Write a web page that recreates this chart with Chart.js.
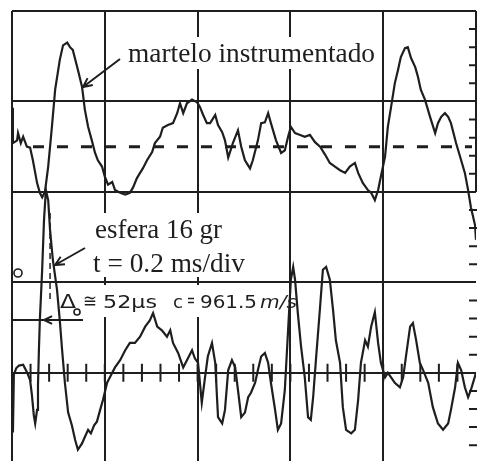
<!DOCTYPE html>
<html><head><meta charset="utf-8">
<script src="https://cdn.jsdelivr.net/npm/chart.js@4.4.0/dist/chart.umd.min.js"></script>
<style>html,body{margin:0;padding:0;background:#fff;}canvas{display:block;}</style>
</head><body>
<canvas id="c" width="478" height="461"></canvas>
<script>
// time in ms (0.2 ms/div), amplitude in divisions (0 = lower trace baseline)
const tTop = [0,0.002,0.011,0.013,0.019,0.024,0.032,0.039,0.045,0.054,
0.060,0.065,0.071,0.078,0.086,0.093,0.103,0.110,0.119,0.125,
0.131,0.142,0.151,0.157,0.164,0.172,0.179,0.185,0.194,0.200,
0.207,0.216,0.222,0.233,0.244,0.254,0.261,0.269,0.276,0.282,
0.291,0.302,0.308,0.319,0.325,0.336,0.347,0.356,0.362,0.369,
0.377,0.388,0.399,0.405,0.412,0.420,0.427,0.438,0.444,0.453,
0.459,0.466,0.476,0.487,0.494,0.502,0.513,0.519,0.530,0.537,
0.545,0.552,0.558,0.569,0.580,0.588,0.595,0.601,0.610,0.621,
0.631,0.642,0.653,0.664,0.675,0.685,0.696,0.707,0.718,0.728,
0.739,0.746,0.756,0.767,0.774,0.782,0.789,0.795,0.804,0.810,
0.817,0.825,0.832,0.838,0.847,0.853,0.860,0.869,0.875,0.881,
0.890,0.901,0.912,0.918,0.925,0.933,0.940,0.946,0.957,0.968,
0.976,0.983,0.989,0.998,1.0];
const vTop = [2.93,2.54,2.57,2.65,2.54,2.61,2.50,2.49,2.35,2.10,
1.99,1.94,2.00,2.28,2.72,3.13,3.46,3.62,3.65,3.60,
3.57,3.35,3.16,2.91,2.72,2.57,2.43,2.35,2.28,2.17,
2.08,2.11,2.02,1.99,1.97,1.99,2.05,2.15,2.21,2.26,
2.35,2.44,2.54,2.61,2.71,2.74,2.76,2.87,2.98,2.87,
2.98,3.02,2.99,2.94,2.85,2.76,2.76,2.85,2.74,2.66,
2.57,2.38,2.54,2.68,2.50,2.35,2.26,2.35,2.57,2.76,
2.77,2.87,2.76,2.57,2.43,2.46,2.61,2.72,2.65,2.63,
2.61,2.63,2.55,2.50,2.41,2.32,2.28,2.24,2.21,2.28,
2.32,2.21,2.10,2.02,1.99,1.91,2.02,2.17,2.39,2.72,
2.94,3.20,3.35,3.49,3.59,3.60,3.48,3.38,3.27,3.13,
3.02,2.83,2.65,2.76,2.83,2.87,2.83,2.76,2.54,2.35,
2.21,2.02,1.83,1.63,1.47];
const tBot = [0.002,0.004,0.009,0.015,0.024,0.032,0.039,0.043,0.047,0.050,
0.054,0.056,0.058,0.060,0.065,0.069,0.073,0.078,0.082,0.088,
0.097,0.103,0.108,0.114,0.121,0.129,0.136,0.142,0.151,0.157,
0.164,0.170,0.177,0.183,0.190,0.196,0.205,0.211,0.222,0.233,
0.244,0.254,0.265,0.276,0.287,0.297,0.304,0.313,0.323,0.334,
0.341,0.347,0.358,0.369,0.377,0.388,0.394,0.401,0.409,0.416,
0.422,0.431,0.438,0.444,0.453,0.459,0.466,0.474,0.481,0.487,
0.494,0.502,0.509,0.515,0.524,0.530,0.537,0.545,0.552,0.558,
0.567,0.573,0.580,0.588,0.595,0.601,0.606,0.610,0.616,0.623,
0.631,0.638,0.644,0.649,0.655,0.664,0.670,0.677,0.685,0.692,
0.698,0.707,0.713,0.720,0.731,0.739,0.746,0.752,0.761,0.767,
0.774,0.782,0.789,0.795,0.804,0.810,0.817,0.825,0.836,0.843,
0.849,0.858,0.864,0.871,0.879,0.886,0.897,0.907,0.918,0.929,
0.940,0.946,0.955,0.961,0.968,0.976,0.983,0.989,1.000];
const vBot = [-0.66,-0.02,0.05,0.08,0.09,0.01,-0.08,-0.25,-0.47,-0.56,
-0.41,-0.14,0.25,0.58,1.14,1.69,2.02,1.91,1.58,1.25,
0.92,0.58,0.25,-0.11,-0.44,-0.58,-0.74,-0.85,-0.78,-0.71,
-0.63,-0.67,-0.58,-0.54,-0.41,-0.30,-0.11,-0.05,0.06,0.14,
0.25,0.33,0.33,0.40,0.51,0.58,0.66,0.51,0.47,0.40,
0.47,0.33,0.22,0.06,0.14,0.25,0.16,0.11,-0.33,-0.05,
0.18,0.33,0.11,-0.49,-0.56,-0.41,0.03,0.14,0.06,-0.19,
-0.49,-0.44,-0.27,-0.22,-0.11,0.03,0.18,0.22,0.11,-0.11,
-0.41,-0.63,-0.56,-0.19,0.47,1.03,1.17,1.03,0.66,0.29,
-0.05,-0.49,-0.52,-0.27,0.14,0.73,1.14,1.17,1.03,0.69,
0.36,0.11,-0.38,-0.63,-0.67,-0.63,-0.30,0.11,0.36,0.29,
0.51,0.67,0.33,0.11,-0.05,0.00,-0.05,-0.11,-0.16,-0.05,
0.18,0.51,0.55,0.36,0.11,0.03,-0.11,-0.38,-0.56,-0.63,
-0.56,-0.41,-0.16,0.11,0.03,-0.16,-0.27,-0.19,0.00];
const xGridTicks = [0,0.2,0.4,0.6,0.8,1.0];
const yGridTicks = [0,1,2,3,4];
const topZero = 2.5;

const ink = '#1e1e1e';

function fit(ctx, txt, x, y, w) {
  const m = ctx.measureText(txt).width;
  ctx.save(); ctx.translate(x, y); ctx.scale(w / m, 1); ctx.fillText(txt, 0, 0); ctx.restore();
}
function arrow(ctx, x1, y1, x2, y2, len) {
  const a = Math.atan2(y2 - y1, x2 - x1);
  ctx.beginPath(); ctx.moveTo(x1, y1); ctx.lineTo(x2, y2);
  ctx.moveTo(x2 - len * Math.cos(a - 0.45), y2 - len * Math.sin(a - 0.45));
  ctx.lineTo(x2, y2);
  ctx.lineTo(x2 - len * Math.cos(a + 0.45), y2 - len * Math.sin(a + 0.45));
  ctx.stroke();
}

const annotate = {
  id: 'annotate',
  beforeDatasetsDraw(chart) {
    const {ctx, chartArea: a, scales: {x, y}} = chart;
    ctx.save();
    ctx.fillStyle = '#fff';
    ctx.fillRect(120, 37, 260, 32);
    ctx.fillRect(88, 213, 164, 64);
    ctx.fillRect(55, 285, 232, 32);
    ctx.strokeStyle = ink; ctx.fillStyle = ink;
    const xr = x.getPixelForValue(1);
    ctx.lineWidth = 2;
    ctx.beginPath(); ctx.moveTo(xr, a.top); ctx.lineTo(xr, y.getPixelForValue(2)); ctx.stroke();
    const y0 = y.getPixelForValue(0);
    ctx.beginPath();
    for (let i = 1; i < 25; i++) {
      const px = x.getPixelForValue(i * 0.04);
      ctx.moveTo(px, y0 - 9); ctx.lineTo(px, y0 + 9);
    }
    for (let i = -4; i < 20; i++) {
      if (i % 5 === 0) continue;
      const py = y.getPixelForValue(i * 0.2);
      ctx.moveTo(xr - 7, py); ctx.lineTo(xr + 1, py);
    }
    ctx.stroke();
    // zero reference of the upper trace
    const yz = y.getPixelForValue(topZero);
    ctx.lineWidth = 3; ctx.setLineDash([11, 13]);
    ctx.beginPath(); ctx.moveTo(33, yz); ctx.lineTo(xr - 4, yz); ctx.stroke();
    ctx.setLineDash([6, 4]); ctx.lineWidth = 1.5;
    const xd = x.getPixelForValue(0.082);
    ctx.beginPath(); ctx.moveTo(xd, 213); ctx.lineTo(xd, 303); ctx.stroke();
    ctx.setLineDash([]);
    // texts
    ctx.textBaseline = 'alphabetic';
    ctx.font = '27px "Liberation Serif"';
    fit(ctx, 'martelo instrumentado', 128, 62, 247);
    fit(ctx, 'esfera 16 gr', 95, 238, 127);
    fit(ctx, 't = 0.2 ms/div', 93, 272, 152);
    ctx.font = '20px "DejaVu Sans"';
    fit(ctx, 'Δ', 60, 308, 16);
    ctx.font = '18px "DejaVu Sans"';
    fit(ctx, '≅', 83, 307, 14);
    fit(ctx, '52μs', 103, 308, 54);
    fit(ctx, 'c', 173, 308, 10);
    fit(ctx, '=', 187, 306, 8);
    fit(ctx, '961.5', 200, 308, 57);
    ctx.font = 'italic 18px "DejaVu Sans"';
    fit(ctx, 'm/s', 260, 308, 37);
    ctx.lineWidth = 1.6;
    ctx.beginPath(); ctx.arc(77, 312, 3, 0, Math.PI * 2); ctx.stroke();
    ctx.beginPath(); ctx.arc(18, 273, 4, 0, Math.PI * 2); ctx.stroke();
    // arrows
    ctx.lineWidth = 2;
    arrow(ctx, 120, 59, 83, 87, 10);
    arrow(ctx, 85, 248, 55, 265, 10);
    ctx.beginPath(); ctx.moveTo(a.left, 320); ctx.lineTo(83, 320); ctx.stroke();
    arrow(ctx, 60, 320, 44, 320, 9);
    ctx.restore();
  }
};

new Chart(document.getElementById('c'), {
  type: 'line',
  data: { datasets: [
    { label: 'martelo instrumentado', data: tTop.map((t, i) => ({x: t, y: vTop[i]})),
      borderColor: ink, borderWidth: 2.2, pointRadius: 0, tension: 0, fill: false },
    { label: 'esfera 16 gr', data: tBot.map((t, i) => ({x: t, y: vBot[i]})),
      borderColor: ink, borderWidth: 2.2, pointRadius: 0, tension: 0, fill: false }
  ]},
  options: {
    responsive: false, animation: false, devicePixelRatio: 1,
    layout: { padding: { left: 12, top: 11, right: 2, bottom: 0 } },
    plugins: { legend: { display: false }, tooltip: { enabled: false } },
    scales: {
      x: { type: 'linear', min: 0, max: 1,
        afterBuildTicks: s => { s.ticks = xGridTicks.map(v => ({value: v})); },
        ticks: { display: false },
        grid: { color: c => (c.tick && c.tick.value === 1) ? 'rgba(0,0,0,0)' : ink, lineWidth: 2, drawTicks: false },
        border: { display: false } },
      y: { type: 'linear', min: -0.975, max: 4,
        afterBuildTicks: s => { s.ticks = yGridTicks.map(v => ({value: v})); },
        ticks: { display: false },
        grid: { color: ink, lineWidth: 2, drawTicks: false },
        border: { display: false } }
    }
  },
  plugins: [annotate]
});
</script>
</body></html>
